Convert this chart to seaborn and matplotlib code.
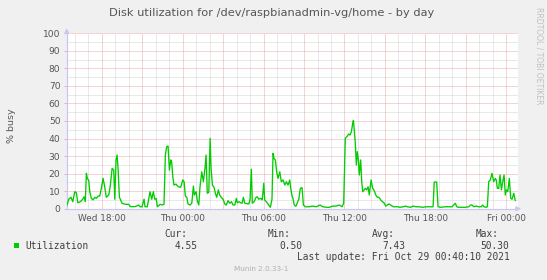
import matplotlib
matplotlib.use("Agg")
import matplotlib.pyplot as plt
import numpy as np
import pandas as pd
import seaborn as sns

# ---------------- data (hours relative to Thu 00:00) ----------------
hours = [-8.58, -8.46, -8.29, -8.16, -8.01, -7.89, -7.79, -7.60, -7.42, -7.32,
         -7.23, -7.15, -7.08, -6.97, -6.90, -6.78, -6.65, -6.53, -6.41, -6.28,
         -6.16, -6.04, -5.91, -5.79, -5.67, -5.49, -5.37, -5.24, -5.12, -5.04,
         -4.95, -4.87, -4.80, -4.70, -4.50, -4.26, -4.01, -3.89, -3.52, -3.26,
         -3.17, -3.02, -2.87, -2.80, -2.63, -2.50, -2.43, -2.30, -2.18, -2.08,
         -1.98, -1.88, -1.68, -1.56, -1.39, -1.29, -1.19, -1.09, -0.99, -0.89,
         -0.82, -0.74, -0.65, -0.50, -0.33, -0.15, 0.00, 0.10, 0.19, 0.30,
         0.39, 0.54, 0.67, 0.79, 0.86, 0.99, 1.08, 1.19, 1.28, 1.41,
         1.53, 1.65, 1.73, 1.82, 1.93, 2.03, 2.10, 2.20, 2.32, 2.42,
         2.52, 2.64, 2.74, 2.86, 2.99, 3.12, 3.23, 3.36, 3.49, 3.61,
         3.73, 3.86, 3.98, 4.05, 4.18, 4.30, 4.40, 4.50, 4.60, 4.90,
         4.99, 5.09, 5.16, 5.29, 5.44, 5.53, 5.64, 5.79, 5.90, 6.01,
         6.08, 6.20, 6.38, 6.50, 6.62, 6.70, 6.77, 6.87, 6.97, 7.07,
         7.20, 7.31, 7.44, 7.57, 7.69, 7.81, 7.94, 8.01, 8.11, 8.18,
         8.26, 8.35, 8.40, 8.61, 8.72, 8.85, 8.95, 9.10, 9.39, 9.64,
         9.89, 10.19, 10.39, 10.68, 10.87, 11.13, 11.37, 11.62, 11.82, 11.94,
         12.06, 12.17, 12.31, 12.41, 12.51, 12.61, 12.66, 12.73, 12.80, 12.88,
         12.95, 13.03, 13.10, 13.20, 13.28, 13.35, 13.45, 13.55, 13.65, 13.75,
         13.84, 13.97, 14.09, 14.21, 14.32, 14.44, 14.56, 14.69, 14.81, 14.93,
         15.06, 15.18, 15.30, 15.43, 15.62, 15.97, 16.12, 16.36, 16.54, 16.66,
         16.91, 17.10, 17.31, 17.55, 17.80, 18.03, 18.27, 18.57, 18.66, 18.84,
         18.94, 19.18, 19.44, 19.68, 19.98, 20.10, 20.22, 20.33, 20.47, 20.72,
         20.96, 21.22, 21.34, 21.46, 21.59, 21.76, 21.96, 22.15, 22.25, 22.35,
         22.50, 22.60, 22.70, 22.82, 22.94, 23.07, 23.19, 23.26, 23.34, 23.44,
         23.54, 23.64, 23.74, 23.84, 23.93, 24.01, 24.11, 24.23, 24.33, 24.43,
         24.56, 24.67]
busy = [2.1, 5.4, 6.5, 4.0, 9.7, 9.0, 3.4, 4.0, 5.4, 6.8,
        4.0, 20.2, 17.3, 16.0, 9.7, 5.9, 5.0, 6.5, 5.9, 7.2,
        7.2, 11.6, 17.3, 12.5, 6.5, 7.8, 13.5, 23.0, 22.0, 5.4,
        27.8, 30.6, 23.0, 6.5, 3.1, 2.5, 2.5, 1.2, 1.2, 2.1,
        1.1, 1.1, 5.4, 1.1, 1.1, 6.5, 9.7, 5.4, 9.7, 5.4,
        5.9, 1.1, 2.5, 2.1, 2.5, 30.6, 35.4, 35.7, 22.0, 27.8,
        26.5, 18.2, 13.5, 14.0, 12.5, 12.2, 16.4, 15.4, 7.2, 6.5,
        2.7, 2.1, 3.1, 12.9, 7.8, 9.7, 4.6, 2.1, 12.5, 21.0,
        15.4, 23.0, 30.6, 8.8, 9.3, 40.1, 23.0, 13.5, 12.2, 8.8,
        6.5, 10.7, 7.8, 6.5, 5.4, 2.7, 2.1, 4.6, 3.1, 4.0,
        2.1, 2.1, 5.9, 3.4, 4.0, 3.4, 3.1, 6.5, 3.1, 2.7,
        5.0, 22.5, 3.1, 4.0, 6.5, 6.8, 5.4, 5.9, 5.0, 14.5,
        5.0, 4.0, 2.1, 0.8, 5.4, 31.6, 28.7, 27.8, 21.0, 17.3,
        21.0, 15.4, 16.4, 13.5, 15.4, 13.5, 16.4, 11.6, 7.2, 5.9,
        2.5, 1.5, 1.5, 5.4, 11.6, 12.0, 2.1, 1.1, 1.1, 1.5,
        1.1, 2.1, 1.1, 0.8, 0.8, 1.5, 1.5, 2.1, 1.1, 3.1,
        40.1, 41.0, 42.6, 42.0, 43.9, 48.7, 50.3, 44.5, 37.3, 24.9,
        32.5, 27.8, 19.2, 27.8, 15.4, 9.7, 10.7, 11.6, 10.7, 12.5,
        7.8, 16.4, 11.6, 10.3, 7.8, 6.5, 6.5, 5.0, 4.0, 3.4,
        1.5, 2.1, 2.7, 2.1, 1.1, 1.1, 0.8, 1.1, 1.5, 1.1,
        0.8, 1.5, 1.1, 1.1, 0.8, 1.1, 1.1, 1.1, 15.2, 15.2,
        1.1, 0.8, 1.1, 1.1, 1.1, 2.1, 3.1, 1.1, 0.8, 0.8,
        0.8, 1.1, 2.1, 2.1, 1.1, 1.5, 1.1, 1.1, 2.1, 1.1,
        0.8, 1.1, 15.4, 16.4, 20.2, 15.4, 17.3, 16.4, 11.6, 11.6,
        19.2, 10.7, 15.4, 19.2, 7.8, 10.7, 9.7, 17.3, 5.9, 5.4,
        8.8, 4.55]

tick_hours = [-6, 0, 6, 12, 18, 24]
tick_labels = ["Wed 18:00", "Thu 00:00", "Thu 06:00", "Thu 12:00", "Thu 18:00", "Fri 00:00"]
y_ticks = list(range(0, 101, 10))
stat_names = ["Cur:", "Min:", "Avg:", "Max:"]
stat_values = ["4.55", "0.50", "7.43", "50.30"]
series_name = "Utilization"
title = "Disk utilization for /dev/raspbianadmin-vg/home - by day"
last_update = "Last update: Fri Oct 29 00:40:10 2021"

# ---------------- style ----------------
sns.set_theme(style="white")
plt.rcParams['font.family'] = ['DejaVu Sans']

W, H = 547, 280
fig = plt.figure(figsize=(W / 100, H / 100), dpi=100, facecolor="#f0f0f0")

def px(x, y):
    return x / W, 1 - y / H

x0, x1, ytop, ybot = 66.7, 517.7, 33.3, 208.7
ax = fig.add_axes([x0 / W, 1 - ybot / H, (x1 - x0) / W, (ybot - ytop) / H])
ax.set_facecolor("white")

xmin, xmax = -8.61, 24.85
ax.set_xlim(xmin, xmax)
ax.set_ylim(0, 100)

grid_red = "#e8a8a8"
grid_gray = "#d4d4d4"
dots = (0, (1, 1))
# minor grid
for h in range(-8, 25):
    if h % 3 != 0:
        ax.axvline(h, color=grid_gray, lw=0.72, ls=dots, zorder=0.5)
for v in range(5, 100, 10):
    ax.axhline(v, color=grid_gray, lw=0.72, ls=dots, zorder=0.5)
# major grid
for h in range(-6, 25, 3):
    ax.axvline(h, color=grid_red, lw=0.72, ls=dots, zorder=0.6)
for v in range(10, 101, 10):
    ax.axhline(v, color=grid_red, lw=0.72, ls=dots, zorder=0.6)

df = pd.DataFrame({"hour": hours, "busy": busy})
sns.lineplot(data=df, x="hour", y="busy", ax=ax, color="#00cc00", linewidth=0.95, zorder=3)

ax.set_xlabel("")
ax.set_ylabel("")
ax.set_xticks(tick_hours)
ax.set_xticklabels(tick_labels)
ax.set_yticks(y_ticks)
ax.set_yticklabels([str(v) for v in y_ticks])
ax.tick_params(axis="x", length=0, pad=3.5, labelsize=6.4, labelcolor="#555555")
ax.tick_params(axis="y", length=2.3, width=0.6, color=grid_red, pad=2.2,
               labelsize=6.6, labelcolor="#555555", left=True)

for s in ["top", "right"]:
    ax.spines[s].set_visible(False)
axis_col = "#c8c8f0"
for s in ["left", "bottom"]:
    ax.spines[s].set_color(axis_col)
    ax.spines[s].set_linewidth(0.9)

# axis arrows
ax.annotate("", xy=(0, 1.045), xytext=(0, 0.99), xycoords="axes fraction",
            arrowprops=dict(arrowstyle="-|>", color=axis_col, lw=0.9, mutation_scale=7),
            annotation_clip=False)
ax.annotate("", xy=(1.014, 0), xytext=(0.99, 0), xycoords="axes fraction",
            arrowprops=dict(arrowstyle="-|>", color=axis_col, lw=0.9, mutation_scale=7),
            annotation_clip=False)

# title and labels
fig.text(*px(272, 12.5), title, ha="center", va="center", fontsize=8.2, color="#555555")
fig.text(*px(12, 126), "% busy", ha="center", va="center", rotation=90, fontsize=6.8,
         color="#555555")
fig.text(*px(538.5, 56), "RRDTOOL / TOBI OETIKER", ha="center", va="center", rotation=270,
         fontsize=5.5, color="#c0c0c0")

# legend
mono = "DejaVu Sans Mono"
fs = 6.85
txt_col = "#404040"
fig.patches.append(plt.Rectangle(px(13.5, 248), 5.5 / W, 5.5 / H, transform=fig.transFigure,
                                 facecolor="#00cc00", edgecolor="none"))
fig.text(*px(25.7, 245.7), series_name, ha="left", va="center", family=mono, fontsize=fs,
         color=txt_col)
name_x = [164, 268, 372, 476]
val_right = [197.7, 302, 405.3, 509.3]
for nm, val, nx, vr in zip(stat_names, stat_values, name_x, val_right):
    fig.text(*px(nx, 234), nm, ha="left", va="center", family=mono, fontsize=fs, color=txt_col)
    fig.text(*px(vr, 245.7), val, ha="right", va="center", family=mono, fontsize=fs,
             color=txt_col)
fig.text(*px(509.3, 257.3), last_update, ha="right", va="center", family=mono, fontsize=fs,
         color=txt_col)
fig.text(*px(261.3, 269), "Munin 2.0.33-1", ha="center", va="center", fontsize=5.2,
         color="#b0b0b0")

fig.savefig("out.png", dpi=100, facecolor=fig.get_facecolor())
